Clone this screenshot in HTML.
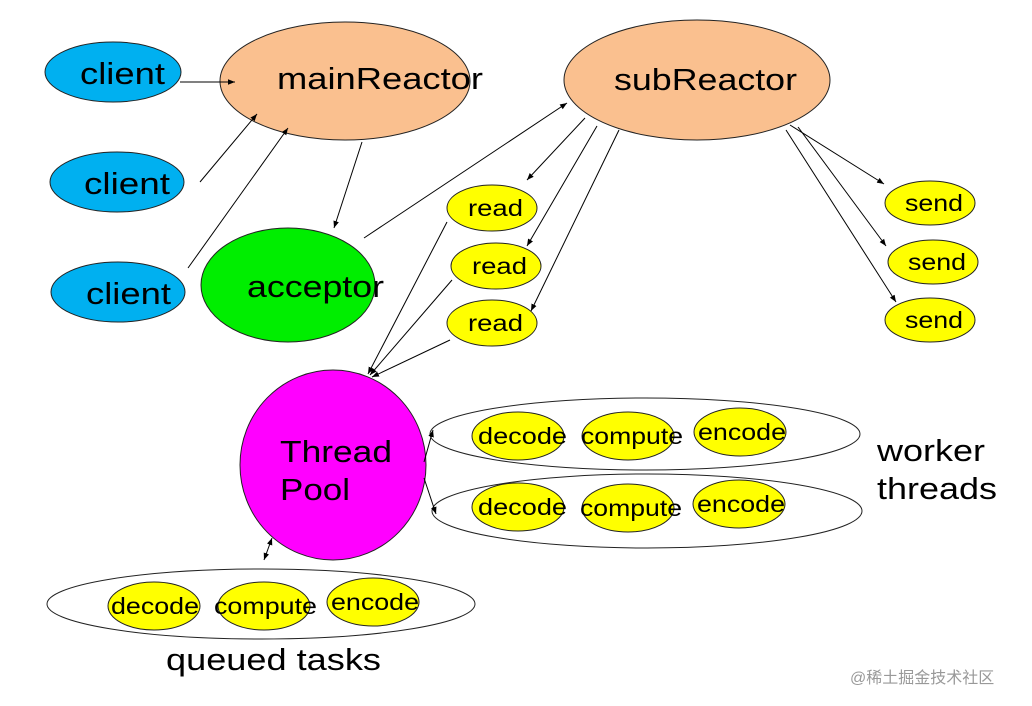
<!DOCTYPE html>
<html><head><meta charset="utf-8"><style>
html,body{margin:0;padding:0;background:#fff;}
svg{display:block;font-family:"Liberation Sans","Noto Sans CJK SC",sans-serif;}
</style></head><body>
<svg width="1032" height="706" viewBox="0 0 1032 706" xmlns="http://www.w3.org/2000/svg">
<defs>
<marker id="a" viewBox="0 0 10 10" refX="10" refY="5" markerWidth="7" markerHeight="7" orient="auto-start-reverse"><path d="M0,1 L10,5 L0,9 z" fill="#000"/></marker>
</defs>
<g stroke="#222" stroke-width="1">
<ellipse cx="113" cy="72" rx="68" ry="30" fill="#00b0f0"/>
<ellipse cx="117" cy="182" rx="67" ry="30" fill="#00b0f0"/>
<ellipse cx="118" cy="292" rx="67" ry="30" fill="#00b0f0"/>
<ellipse cx="345" cy="81" rx="125" ry="59" fill="#fac08f"/>
<ellipse cx="697" cy="80" rx="133" ry="60" fill="#fac08f"/>
<ellipse cx="288" cy="285" rx="87" ry="57" fill="#00ee00"/>
<ellipse cx="492" cy="208" rx="45" ry="23" fill="#ffff00"/>
<ellipse cx="496" cy="266" rx="45" ry="23" fill="#ffff00"/>
<ellipse cx="492" cy="323" rx="45" ry="23" fill="#ffff00"/>
<ellipse cx="930" cy="203" rx="45" ry="22" fill="#ffff00"/>
<ellipse cx="933" cy="262" rx="45" ry="22" fill="#ffff00"/>
<ellipse cx="930" cy="320" rx="45" ry="22" fill="#ffff00"/>
<ellipse cx="333" cy="465" rx="93" ry="95" fill="#ff00ff"/>
<ellipse cx="645" cy="434" rx="215" ry="36" fill="none"/>
<ellipse cx="647" cy="511" rx="215" ry="37" fill="none"/>
<ellipse cx="261" cy="604" rx="214" ry="35" fill="none"/>
<g fill="#ffff00">
<ellipse cx="518" cy="436" rx="46" ry="24"/><ellipse cx="628" cy="436" rx="46" ry="24"/><ellipse cx="740" cy="432" rx="46" ry="24"/>
<ellipse cx="518" cy="507" rx="46" ry="24"/><ellipse cx="628" cy="508" rx="46" ry="24"/><ellipse cx="739" cy="504" rx="46" ry="24"/>
<ellipse cx="154" cy="606" rx="46" ry="24"/><ellipse cx="264" cy="606" rx="46" ry="24"/><ellipse cx="373" cy="602" rx="46" ry="24"/>
</g>
</g>
<g stroke="#000" stroke-width="1" fill="none" marker-end="url(#a)">
<line x1="180" y1="82" x2="235" y2="82"/>
<line x1="200" y1="182" x2="257" y2="114"/>
<line x1="188" y1="268" x2="288" y2="128"/>
<line x1="362" y1="142" x2="334" y2="228"/>
<line x1="364" y1="238" x2="567" y2="103"/>
<line x1="585" y1="118" x2="527" y2="180"/>
<line x1="597" y1="126" x2="527" y2="246"/>
<line x1="619" y1="130" x2="531" y2="311"/>
<line x1="790" y1="125" x2="884" y2="184"/>
<line x1="798" y1="127" x2="886" y2="246"/>
<line x1="786" y1="130" x2="896" y2="302"/>
<line x1="447" y1="222" x2="368" y2="374"/>
<line x1="452" y1="280" x2="370" y2="375"/>
<line x1="450" y1="340" x2="372" y2="377"/>
<line x1="424" y1="462" x2="433" y2="430"/>
<line x1="424" y1="478" x2="436" y2="514"/>
<line x1="264" y1="560" x2="272" y2="538" marker-start="url(#a)"/>
</g>
<g fill="#000" font-size="31" lengthAdjust="spacingAndGlyphs">
<text x="80" y="84" textLength="85" lengthAdjust="spacingAndGlyphs">client</text>
<text x="84" y="194" textLength="86" lengthAdjust="spacingAndGlyphs">client</text>
<text x="86" y="304" textLength="85" lengthAdjust="spacingAndGlyphs">client</text>
<text x="277" y="89" textLength="206" lengthAdjust="spacingAndGlyphs">mainReactor</text>
<text x="614" y="90" textLength="183" lengthAdjust="spacingAndGlyphs">subReactor</text>
<text x="247" y="297" textLength="137" lengthAdjust="spacingAndGlyphs">acceptor</text>
<text x="280" y="462" textLength="112" lengthAdjust="spacingAndGlyphs">Thread</text>
<text x="280" y="500" textLength="70" lengthAdjust="spacingAndGlyphs">Pool</text>
<text x="877" y="461" textLength="108" lengthAdjust="spacingAndGlyphs">worker</text>
<text x="877" y="499" textLength="120" lengthAdjust="spacingAndGlyphs">threads</text>
<text x="166" y="670" textLength="215" lengthAdjust="spacingAndGlyphs">queued tasks</text>
</g>
<g fill="#000" font-size="23">
<text x="468" y="216" textLength="55" lengthAdjust="spacingAndGlyphs">read</text>
<text x="472" y="274" textLength="55" lengthAdjust="spacingAndGlyphs">read</text>
<text x="468" y="331" textLength="55" lengthAdjust="spacingAndGlyphs">read</text>
<text x="905" y="211" textLength="58" lengthAdjust="spacingAndGlyphs">send</text>
<text x="908" y="270" textLength="58" lengthAdjust="spacingAndGlyphs">send</text>
<text x="905" y="328" textLength="58" lengthAdjust="spacingAndGlyphs">send</text>
<text x="478" y="444" textLength="89" lengthAdjust="spacingAndGlyphs">decode</text><text x="581" y="444" textLength="102" lengthAdjust="spacingAndGlyphs">compute</text><text x="698" y="440" textLength="88" lengthAdjust="spacingAndGlyphs">encode</text>
<text x="478" y="515" textLength="89" lengthAdjust="spacingAndGlyphs">decode</text><text x="580" y="516" textLength="102" lengthAdjust="spacingAndGlyphs">compute</text><text x="697" y="512" textLength="88" lengthAdjust="spacingAndGlyphs">encode</text>
<text x="111" y="614" textLength="88" lengthAdjust="spacingAndGlyphs">decode</text><text x="214" y="614" textLength="103" lengthAdjust="spacingAndGlyphs">compute</text><text x="331" y="610" textLength="88" lengthAdjust="spacingAndGlyphs">encode</text>
</g>
<text x="850" y="683" font-size="16" fill="#999">@稀土掘金技术社区</text>
</svg>
</body></html>
